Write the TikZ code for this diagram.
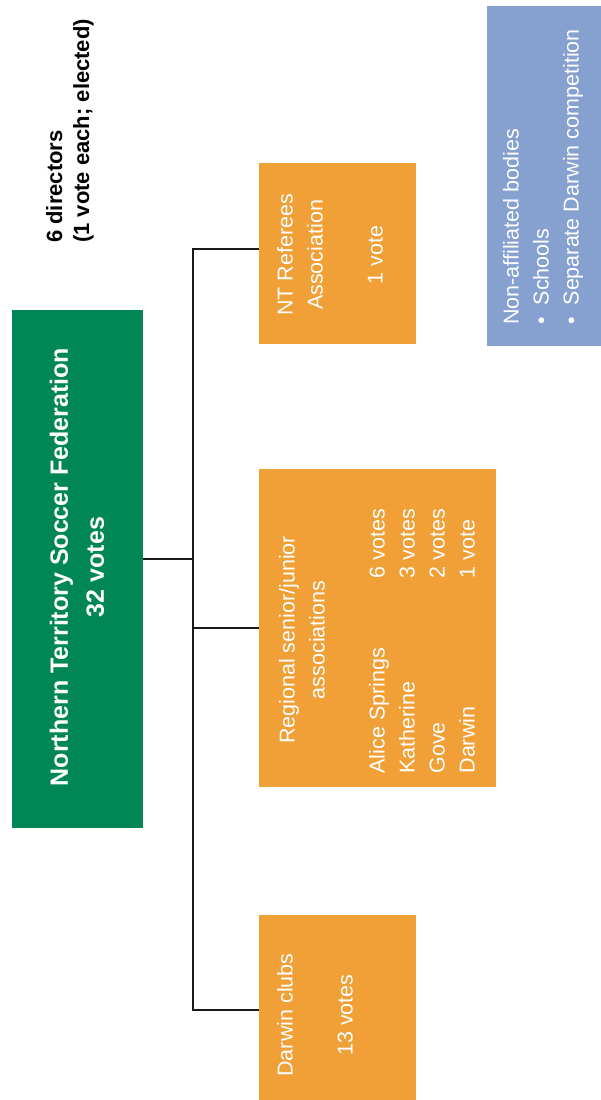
\documentclass[tikz,border=0pt]{standalone}
\usepackage{fontspec}
\setmainfont{Liberation Sans}
\definecolor{ntgreen}{RGB}{0,135,85}
\definecolor{ntorange}{RGB}{240,160,54}
\definecolor{ntblue}{RGB}{134,160,208}
\newcommand{\voterow}[2]{\makebox[195pt][l]{#1}\makebox[72pt][l]{#2}}

\begin{document}
\begin{tikzpicture}[x=1pt, y=1pt,
	box/.style={inner sep=0pt, outer sep=0pt},
	txt/.style={rotate=90, inner sep=0pt, text=white, align=center, font=\fontsize{21.5}{30}\selectfont},
	conn/.style={line width=1.2pt, black!90}]
	\useasboundingbox (0,0) rectangle (601,1100);
	% boxes
	\node [box, fill=ntgreen, minimum width=131pt, minimum height=518pt] (F) at (77.5,531) {};
	\node [box, fill=ntorange, minimum width=157pt, minimum height=181pt] (R) at (337.5,846.5) {};
	\node [box, fill=ntorange, minimum width=237pt, minimum height=318pt] (G) at (377.5,472) {};
	\node [box, fill=ntorange, minimum width=157pt, minimum height=185pt] (C) at (337.5,92.5) {};
	\node [box, fill=ntblue, minimum width=120pt, minimum height=340pt] (N) at (547,924) {};
	% texts
	\node [txt, font=\bfseries\fontsize{25}{36}\selectfont] (Ft) at (77,533) {Northern Territory Soccer Federation\\32 votes};
	\node [txt, text=black, align=left, anchor=west, font=\bfseries\fontsize{22}{27}\selectfont] (D) at (70,857) {6 directors\\(1 vote each; elected)};
	\node [txt] (Rt) at (330,845) {NT Referees\\Association\\[30pt]1 vote};
	\node [txt] (Gt) at (377,460) {Regional senior/junior\\associations\\[30pt]%
		\voterow{Alice Springs}{6 votes}\\\voterow{Katherine}{3 votes}\\%
		\voterow{Gove}{2 votes}\\\voterow{Darwin}{1 vote}};
	\node [txt] (Ct) at (315,85) {Darwin clubs\\[30pt]13 votes};
	\node [txt, align=left, anchor=west] (Nt) at (543,775) {Non-affiliated bodies\\\textbullet\ \ Schools\\\textbullet\ \ Separate Darwin competition};
	% connectors
	\draw [conn] ([yshift=10pt]F.east) -- ++(49.5pt,0);
	\draw [conn] ([yshift=4.5pt]R.west) -- ++(-66pt,0) |- ([yshift=-2.5pt]C.west);
	\draw [conn] (G.west) -- ++(-66pt,0);
\end{tikzpicture}
\end{document}
